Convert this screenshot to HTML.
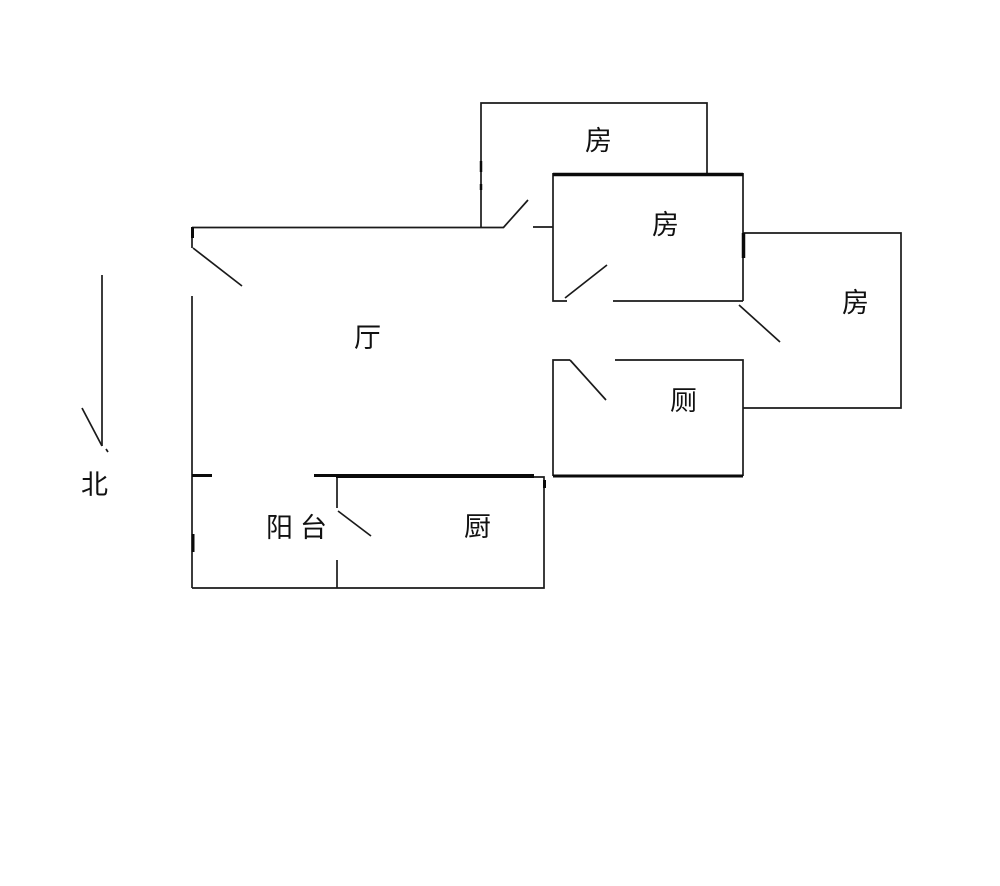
<!DOCTYPE html>
<html>
<head>
<meta charset="utf-8">
<style>
html,body{margin:0;padding:0;background:#fff;}
svg{display:block;}
text{font-family:"Liberation Sans","Noto Sans CJK SC","WenQuanYi Zen Hei",sans-serif;font-size:27px;fill:#111;font-weight:400;}
</style>
</head>
<body>
<svg width="1000" height="886" viewBox="0 0 1000 886" xmlns="http://www.w3.org/2000/svg">
<rect width="1000" height="886" fill="#fff"/>
<g stroke="#1a1a1a" stroke-width="1.7" fill="none">
<!-- top room -->
<path d="M481 227V103H707V173"/>
<!-- hall top -->
<path d="M192 227.5H503"/>
<path d="M503 228L528 200"/>
<path d="M533 227H553"/>
<!-- entrance door -->
<path d="M192 227V248"/>
<path d="M193 248L242 286"/>
<path d="M192 296V588"/>
<!-- middle room -->
<path d="M553 173V301H567"/>
<path d="M565 298L607 265"/>
<path d="M613 301H743"/>
<path d="M743 173V301"/>
<path d="M739 305L780 342"/>
<!-- right room -->
<path d="M743 233H901V408H743"/>
<!-- toilet -->
<path d="M553 476V360H570"/>
<path d="M570 360L606 400"/>
<path d="M615 360H743V476"/>
<!-- balcony / kitchen -->
<path d="M192 588H544V477H534"/>
<path d="M337 476V508"/>
<path d="M337 560V588"/>
<path d="M338 511L371 536"/>
<!-- arrow -->
<path d="M102 275V446"/>
<path d="M82 408L102 446"/>
<path d="M106 449L108 452"/>
</g>
<g stroke="#0a0a0a" fill="none">
<path d="M553 174.5H743" stroke-width="3.5"/>
<path d="M336 476H534" stroke-width="4"/>
<path d="M314 475.5H336" stroke-width="3"/>
<path d="M553 476H743" stroke-width="3"/>
<path d="M192 475.5H212" stroke-width="3"/>
<path d="M743.5 233V258" stroke-width="3.5"/>
<path d="M193 534V552" stroke-width="3"/>
<path d="M481 161V172" stroke-width="2.5"/>
<path d="M481 184V190" stroke-width="2.5"/>
<path d="M192.5 227V238" stroke-width="3"/>
<path d="M544.5 480V488" stroke-width="3"/>
</g>
<text x="585" y="150">房</text>
<text x="652" y="234">房</text>
<text x="842" y="312">房</text>
<text x="354" y="347">厅</text>
<text x="670" y="410">厕</text>
<text x="464" y="536">厨</text>
<text x="266" y="537">阳</text>
<text x="300" y="537">台</text>
<text x="81" y="494">北</text>
</svg>
</body>
</html>
